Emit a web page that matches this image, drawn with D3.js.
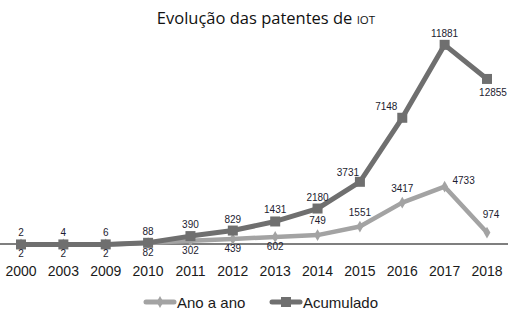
<!DOCTYPE html>
<html>
<head>
<meta charset="utf-8">
<script src="https://cdn.jsdelivr.net/npm/d3@7"></script>
<style>
  body { margin: 0; background: #fff; }
  svg { display: block; }
</style>
</head>
<body>
<svg id="chart"></svg>
<script>
"use strict";

// categories
var years = ["2000", "2003", "2009", "2010", "2011", "2012", "2013", "2014", "2015", "2016", "2017", "2018"];

// values as plotted
var anoAnoPlot = [2, 2, 2, 82, 230, 330, 450, 560, 1070, 2490, 3440, 710];
var acumuladoPlot = [2, 4, 6, 100, 500, 830, 1370, 2140, 3730, 7540, 11880, 9850];

// data labels as printed on the chart
var anoAnoLabels = ["2", "2", "2", "82", "302", "439", "602", "749", "1551", "3417", "4733", "974"];
var acumuladoLabels = ["2", "4", "6", "88", "390", "829", "1431", "2180", "3731", "7148", "11881", "12855"];

var seriesNames = ["Ano a ano", "Acumulado"];

(function () {

    var width = 519, height = 320;
    var baseline = 244.5;
    var colors = { ano: "#a3a3a3", acum: "#6f6f6f" };
    var labelColor = "#1c1c30";

    var svg = d3.select("#chart")
        .attr("width", width)
        .attr("height", height);

    var xScale = d3.scalePoint()
        .domain(years)
        .range([21, 487]);

    var yScale = d3.scaleLinear()
        .domain([0, 13000])
        .range([baseline, 26]);

    // title
    var title = svg.append("text")
        .attr("x", 266)
        .attr("y", 24)
        .attr("text-anchor", "middle")
        .attr("font-family", "Open Sans, sans-serif")
        .attr("font-size", 16.5)
        .attr("fill", "#111");
    title.append("tspan").text("Evolução das patentes de ");
    title.append("tspan").attr("font-size", 11.5).text("IOT");

    // category axis line
    svg.append("line")
        .attr("x1", 0).attr("x2", 508)
        .attr("y1", 244).attr("y2", 244)
        .attr("stroke", "#000")
        .attr("stroke-width", 1.2);

    svg.append("g")
        .selectAll("text")
        .data(years)
        .enter()
        .append("text")
        .attr("x", function (d) { return xScale(d); })
        .attr("y", 276)
        .attr("text-anchor", "middle")
        .attr("font-family", "Liberation Sans, Arial, sans-serif")
        .attr("font-size", 14)
        .attr("fill", "#1a1a1a")
        .text(function (d) { return d; });

    var line = d3.line()
        .x(function (d, i) { return xScale(years[i]); })
        .y(function (d) { return yScale(d); });

    // Ano a ano
    svg.append("path")
        .datum(anoAnoPlot)
        .attr("d", line)
        .attr("fill", "none")
        .attr("stroke", colors.ano)
        .attr("stroke-width", 4.5)
        .attr("stroke-linejoin", "round");

    svg.append("g")
        .selectAll("path")
        .data(anoAnoPlot)
        .enter()
        .append("path")
        .attr("d", d3.symbol().type(d3.symbolDiamond).size(40))
        .attr("transform", function (d, i) {
            return "translate(" + xScale(years[i]) + "," + yScale(d) + ")";
        })
        .attr("fill", colors.ano);

    // Acumulado
    svg.append("path")
        .datum(acumuladoPlot)
        .attr("d", line)
        .attr("fill", "none")
        .attr("stroke", colors.acum)
        .attr("stroke-width", 5)
        .attr("stroke-linejoin", "round");

    svg.append("g")
        .selectAll("rect")
        .data(acumuladoPlot)
        .enter()
        .append("rect")
        .attr("x", function (d, i) { return xScale(years[i]) - 5; })
        .attr("y", function (d) { return yScale(d) - 5; })
        .attr("width", 10)
        .attr("height", 10)
        .attr("fill", colors.acum);

    // data labels
    function anoOffset(i) {
        if (i < 7) return [0, 13];           // below the marker
        if (i === 10) return [19, -3];        // 4733 sits to the right
        if (i === 11) return [4, -15];
        return [0, -11];
    }
    function acumOffset(i) {
        if (i === 11) return [6, 17];         // 12855 sits below
        if (i === 8) return [-12, -6];
        if (i === 9) return [-16, -8];
        return [0, -8];
    }

    svg.append("g")
        .selectAll("text")
        .data(anoAnoLabels)
        .enter()
        .append("text")
        .attr("x", function (d, i) { return xScale(years[i]) + anoOffset(i)[0]; })
        .attr("y", function (d, i) { return yScale(anoAnoPlot[i]) + anoOffset(i)[1]; })
        .attr("text-anchor", "middle")
        .attr("font-family", "Liberation Sans, Arial, sans-serif")
        .attr("font-size", 10)
        .attr("fill", labelColor)
        .text(function (d) { return d; });

    svg.append("g")
        .selectAll("text")
        .data(acumuladoLabels)
        .enter()
        .append("text")
        .attr("x", function (d, i) { return xScale(years[i]) + acumOffset(i)[0]; })
        .attr("y", function (d, i) { return yScale(acumuladoPlot[i]) + acumOffset(i)[1]; })
        .attr("text-anchor", "middle")
        .attr("font-family", "Liberation Sans, Arial, sans-serif")
        .attr("font-size", 10)
        .attr("fill", labelColor)
        .text(function (d) { return d; });

    // legend
    var legend = svg.append("g").attr("transform", "translate(0,302)");
    var legendX = [146, 272];
    var legendColors = [colors.ano, colors.acum];

    seriesNames.forEach(function (name, i) {
        var g = legend.append("g").attr("transform", "translate(" + legendX[i] + ",0)");
        g.append("line")
            .attr("x1", 0).attr("x2", 28)
            .attr("y1", 0).attr("y2", 0)
            .attr("stroke", legendColors[i])
            .attr("stroke-width", 5)
            .attr("stroke-linecap", "round");
        if (i === 0) {
            g.append("path")
                .attr("d", d3.symbol().type(d3.symbolDiamond).size(40))
                .attr("transform", "translate(14,0)")
                .attr("fill", legendColors[i]);
        } else {
            g.append("rect")
                .attr("x", 9).attr("y", -5)
                .attr("width", 10).attr("height", 10)
                .attr("fill", legendColors[i]);
        }
        g.append("text")
            .attr("x", 31)
            .attr("y", 6)
            .attr("font-family", "Liberation Sans, Arial, sans-serif")
            .attr("font-size", 15)
            .attr("fill", "#1a1a1a")
            .text(name);
    });

})();
</script>
</body>
</html>
